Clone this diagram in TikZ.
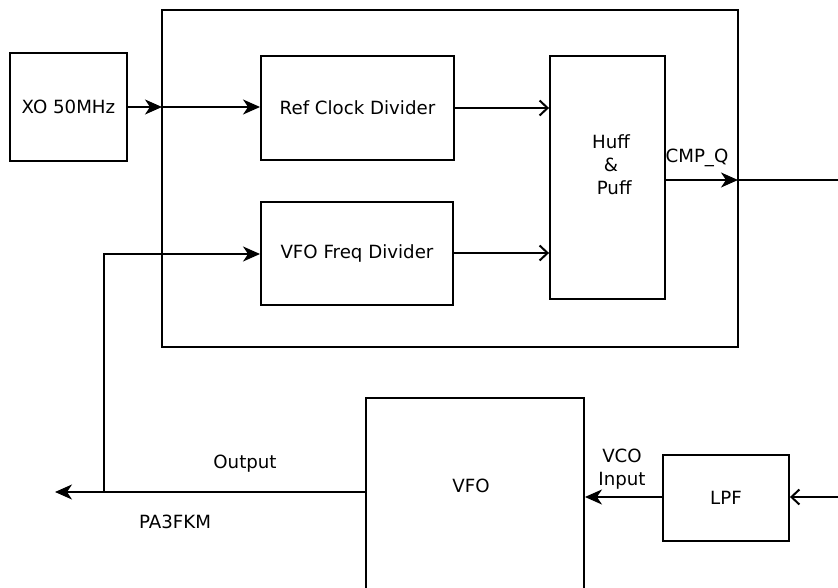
\documentclass[tikz,border=0pt]{standalone}
\usepackage{fontspec}
\setmainfont{DejaVu Sans}
\usetikzlibrary{arrows.meta}
\begin{document}
\begin{tikzpicture}[x=1pt,y=-1pt,
  box/.style={draw=black,line width=1.9pt,rectangle,inner sep=0pt},
  txt/.style={font=\fontsize{18.2}{23}\selectfont,inner sep=0pt,align=center},
  wire/.style={line width=1.9pt},
  fa/.style={-{Stealth[length=17pt,width=15pt,inset=5pt]}},
  oa/.style={-{Straight Barb[length=8pt,width=15pt,line width=2pt]}}
]
\clip (0,0) rectangle (838,588);
\fill[white] (0,0) rectangle (838,588);
% boxes
\node[box,minimum width=576pt,minimum height=337pt] (big) at (450,178.5) {};
\node[box,minimum width=117pt,minimum height=108pt,txt] (xo) at (68.5,107) {XO 50MHz};
\node[box,minimum width=193pt,minimum height=104pt,txt] (ref) at (357.5,108) {Ref Clock Divider};
\node[box,minimum width=192pt,minimum height=103pt,txt] (vfod) at (357,253.5) {VFO Freq Divider};
\node[box,minimum width=115pt,minimum height=243pt] (hp) at (607.5,177.5) {};
\node[txt] (hpt) at (611,165) {Huff\\\&\\\hspace{0.35em}Puff};
\node[box,minimum width=218pt,minimum height=200pt] (vfo) at (475,498) {};
\node[txt] (vfot) at (471,486) {VFO};
\node[box,minimum width=126pt,minimum height=86pt,txt] (lpf) at (726,498) {LPF};
% labels
\node[txt] (cmpq) at (697,158) {CMP\_Q};
\node[txt] (outl) at (245,464) {Output};
\node[txt] (pa) at (175,522) {PA3FKM};
\node[txt] (vco) at (622,469.5) {VCO\\Input};
% coordinates
\coordinate (bigin1) at (162,107);
\coordinate (bigin2) at (162,254);
\coordinate (bigout) at (738,180);
\coordinate (rightend) at (840,180);
\coordinate (lpfin) at (840,497);
\coordinate (outend) at (55,492);
\coordinate (jn) at (104,492);
\coordinate (jt) at (104,254);
% connectors
\draw[wire,fa] (xo.east |- bigin1) -- (bigin1);
\draw[wire,fa] (bigin1) -- (ref.west |- bigin1);
\draw[wire,oa] (ref.east |- 0,108) -- (hp.west |- 0,108);
\draw[wire,oa] (vfod.east |- 0,253) -- (hp.west |- 0,253);
\draw[wire,fa] (hp.east |- bigout) -- (bigout);
\draw[wire] (bigout) -- (rightend);
\draw[wire,fa] (vfo.west |- jn) -- (outend);
\draw[wire,fa] (jn) -- (jt) -- (vfod.west |- jt);
\draw[wire,oa] (lpfin) -- (lpf.east |- lpfin);
\draw[wire,fa] (lpf.west |- lpfin) -- (vfo.east |- lpfin);
\end{tikzpicture}
\end{document}
